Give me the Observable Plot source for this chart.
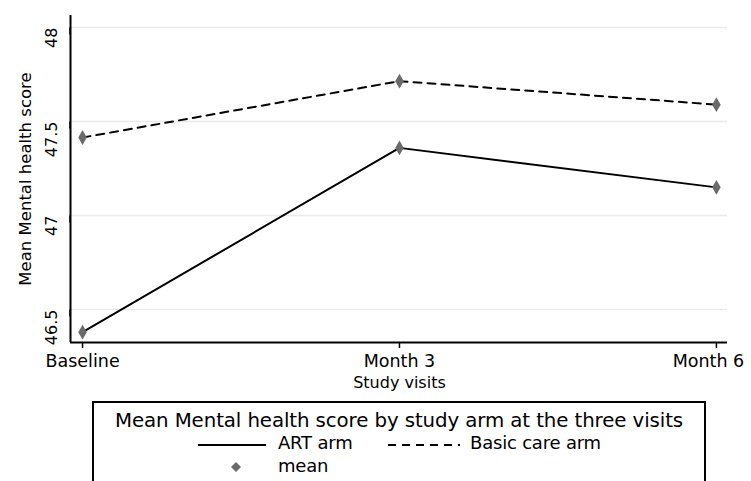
<!DOCTYPE html>
<html>
<head>
<meta charset="utf-8">
<script src="https://cdn.jsdelivr.net/npm/d3@7"></script>
<script src="https://cdn.jsdelivr.net/npm/@observablehq/plot@0.6"></script>
<style>
  html, body { margin: 0; padding: 0; background: #fff; }
  body { font-family: "DejaVu Sans", "Liberation Sans", Arial, sans-serif; }
  #wrap { position: relative; width: 751px; height: 481px; overflow: hidden; }
  #legend {
    position: absolute; left: 92px; top: 401px; width: 614px; height: 120px;
    border: 2px solid #000; box-sizing: border-box;
  }
  #legend .title { position: absolute; left: 0; right: 0; top: 6px; text-align: center; font-size: 19.8px; color: #000; white-space: nowrap; letter-spacing: -0.1px; }
  #legend .item { position: absolute; font-size: 18px; color: #000; white-space: nowrap; letter-spacing: -0.2px; }
  #legend svg { position: absolute; }
</style>
</head>
<body>
<div id="wrap">
  <div id="chart"></div>
  <div id="legend">
    <div class="title">Mean Mental health score by study arm at the three visits</div>
    <svg style="left:104px; top:38px" width="70" height="8"><line x1="0" x2="68" y1="4" y2="4" stroke="#000" stroke-width="2"/></svg>
    <div class="item" style="left:184px; top:29px">ART arm</div>
    <svg style="left:294px; top:38px" width="76" height="8"><line x1="0" x2="72" y1="4" y2="4" stroke="#000" stroke-width="2" stroke-dasharray="8,6"/></svg>
    <div class="item" style="left:376px; top:29px">Basic care arm</div>
    <svg style="left:136px; top:58px" width="12" height="12"><path d="M6,1 L11,6 L6,11 L1,6 Z" fill="#6a6a6a"/></svg>
    <div class="item" style="left:184px; top:52px">mean</div>
  </div>
</div>
<script>
// Study visits (x categories) and mean scores per arm
const visits = ["Baseline", "Month 3", "Month 6"];
const artArm = [46.38, 47.36, 47.15];
const basicCareArm = [47.415, 47.715, 47.59];
const yTicks = [46.5, 47, 47.5, 48];

const rows = [
  ...visits.map((v, i) => ({visit: i, arm: "ART arm", mean: artArm[i]})),
  ...visits.map((v, i) => ({visit: i, arm: "Basic care arm", mean: basicCareArm[i]}))
];
const art = rows.filter(d => d.arm === "ART arm");
const basic = rows.filter(d => d.arm === "Basic care arm");

const xDomain = [-0.038, 2.035];
const yDomain = [46.325, 48.064];
const xAxisStyle = {tickSize: 6, tickPadding: 8, fontSize: 17.5, tickFormat: i => visits[i], label: null, strokeWidth: 1.5};

const chart = Plot.plot({
  width: 751,
  height: 396,
  marginTop: 15,
  marginBottom: 54,
  marginLeft: 70,
  marginRight: 24,
  style: {fontFamily: "DejaVu Sans, Liberation Sans, Arial, sans-serif", background: "#fff", color: "#000", overflow: "visible"},
  x: {domain: xDomain, axis: null},
  y: {domain: yDomain, range: [342, 15], axis: null},
  marks: [
    Plot.ruleY(yTicks, {stroke: "#ebebeb", strokeWidth: 1.5}),
    Plot.ruleY([yDomain[0]], {stroke: "#000", strokeWidth: 2}),
    Plot.ruleX([xDomain[0]], {stroke: "#000", strokeWidth: 2}),
    Plot.axisY(yTicks, {
      tickSize: 7, tickPadding: 12, fontSize: 16, rotate: -90,
      tickFormat: d => String(d), label: null, strokeWidth: 1.5
    }),
    // tick marks for every visit; labels drawn separately so the last one stays inside the page
    Plot.axisX([0, 1, 2], {...xAxisStyle, tickFormat: null, text: null}),
    Plot.axisX([0, 1], {...xAxisStyle, tickSize: 0, tickPadding: 12}),
    Plot.axisX([2], {...xAxisStyle, tickSize: 0, tickPadding: 12, dx: -8}),
    Plot.text(["Study visits"], {x: 1, frameAnchor: "bottom", dy: 45, fontSize: 16, letterSpacing: -0.3}),
    Plot.text(["Mean Mental health score"], {
      frameAnchor: "left", textAnchor: "middle", dx: -45, rotate: -90, fontSize: 16.5
    }),
    Plot.line(basic, {x: "visit", y: "mean", stroke: "#000", strokeWidth: 2, strokeDasharray: "8,6"}),
    Plot.line(art, {x: "visit", y: "mean", stroke: "#000", strokeWidth: 2}),
    Plot.dot(rows, {x: "visit", y: "mean", symbol: "diamond", r: 4.5, fill: "#6a6a6a", stroke: "none"})
  ]
});
document.getElementById("chart").append(chart);
</script>
</body>
</html>
